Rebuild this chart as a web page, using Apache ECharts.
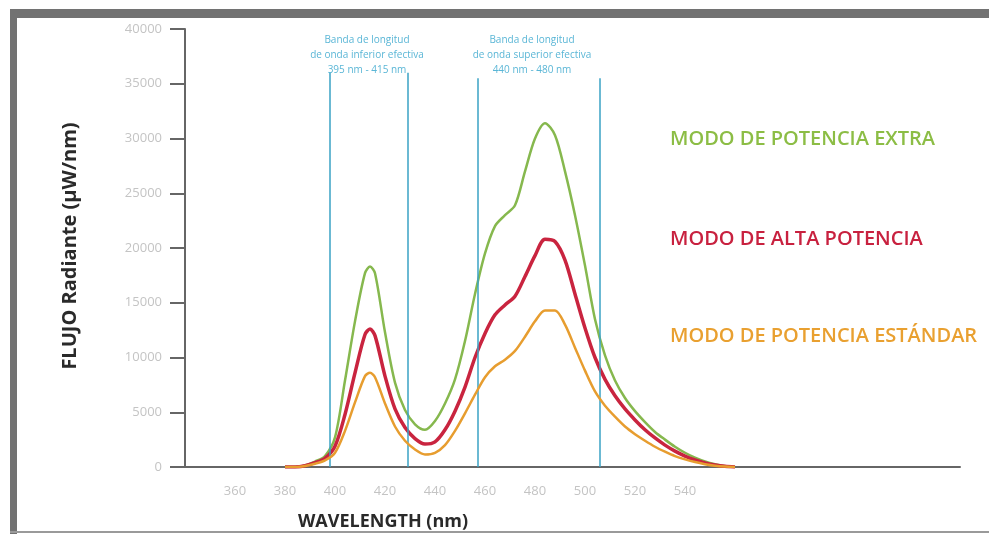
<!DOCTYPE html>
<html>
<head>
<meta charset="utf-8">
<script src="https://cdn.jsdelivr.net/npm/echarts@6/dist/echarts.min.js"></script>
<style>
html,body{margin:0;padding:0;background:#fff;}
#chart{width:989px;height:534px;}
</style>
</head>
<body>
<div id="chart"></div>
<script>
// ---- data ----
const wavelengths = [380,384,388,392,396,400,404,408,412,414,416,420,424,428,432,436,440,444,448,452,456,460,464,468,472,476,480,484,488,492,496,500,504,508,512,516,520,524,528,532,536,540,544,548,552,556,560];
const extraMode    = [0,0,150,500,1000,2700,7900,13300,17700,18300,17700,12300,7700,5200,3900,3400,4200,5800,8000,11500,15800,19500,22000,23000,23900,27000,30000,31400,30300,27000,23000,18400,13500,10200,7900,6300,5100,4100,3200,2500,1850,1300,850,500,250,80,0];
const highMode     = [0,0,120,400,800,1900,4800,8600,12100,12600,12000,8300,5300,3600,2600,2100,2300,3400,5100,7300,10000,12200,13900,14800,15600,17400,19300,20800,20600,18900,15800,12700,10000,8000,6500,5300,4300,3400,2650,2000,1450,1000,650,380,180,60,0];
const standardMode = [0,0,100,300,600,1300,3300,5900,8300,8600,8200,5800,3700,2400,1600,1150,1300,2000,3300,4900,6600,8200,9200,9800,10600,11900,13300,14300,14300,13000,10900,8800,6900,5600,4600,3700,3000,2400,1850,1400,1000,700,450,260,120,40,0];
const seriesNames = ['MODO DE POTENCIA EXTRA','MODO DE ALTA POTENCIA','MODO DE POTENCIA ESTÁNDAR'];
const xTickLabels = [360,380,400,420,440,460,480,500,520,540];
const bandLinePositions = [398, 429, 457, 506];
const bandLineTops = [36000, 36000, 35500, 35500];
const bandTexts = [
  'Banda de longitud\nde onda inferior efectiva\n395 nm - 415 nm',
  'Banda de longitud\nde onda superior efectiva\n440 nm - 480 nm'
];
const yAxisTitle = 'FLUJO Radiante (μW/nm)';
const xAxisTitle = 'WAVELENGTH (nm)';

const colors = ['#86b84e', '#c9243f', '#e79d2f'];
const textColors = ['#8cbd45', '#c8213f', '#e9a030'];
const widths = [2.5, 3.5, 2.5];

function pairs(vals){ return wavelengths.map((w,i)=>[w, vals[i]]); }

const chart = echarts.init(document.getElementById('chart'), null, {renderer:'canvas'});

const lineSeries = [extraMode, highMode, standardMode].map((vals, i) => ({
  name: seriesNames[i],
  type: 'line',
  data: pairs(vals),
  smooth: 0.3,
  showSymbol: false,
  silent: true,
  z: 3 + i,
  lineStyle: {color: colors[i], width: widths[i]}
}));

const bandSeries = {
  type: 'line',
  data: [],
  silent: true,
  z: 2,
  markLine: {
    silent: true,
    symbol: ['none','none'],
    label: {show: false},
    lineStyle: {color: '#3aa2c4', width: 1.5, type: 'solid'},
    data: bandLinePositions.map((x, i) => [
      {coord: [x, bandLineTops[i]]},
      {coord: [x, 0]}
    ])
  }
};

const leftFrame = {type:'rect', shape:{x:10, y:9, width:7, height:525}, style:{fill:'#727272'}, z:10};
const topFrame = {type:'rect', shape:{x:10, y:9, width:979, height:9}, style:{fill:'#727272'}, z:10};
const bottomFrame = {type:'rect', shape:{x:10, y:531, width:979, height:2}, style:{fill:'#9a9a9a'}, z:10};

const graphics = [leftFrame, topFrame, bottomFrame,
  {type:'text', x:70, y:246, rotation:Math.PI/2,
    style:{text:yAxisTitle, align:'center', verticalAlign:'middle', fill:'#2a2a2a',
      font:'bold 20px "Open Sans", sans-serif'}},
  {type:'text', x:383, y:522,
    style:{text:xAxisTitle, align:'center', verticalAlign:'middle', fill:'#2a2a2a',
      font:'bold 18px "Open Sans", sans-serif'}},
  {type:'text', x:367, y:33,
    style:{text:bandTexts[0], align:'center', verticalAlign:'top', fill:'#5ab6d6',
      font:'10px "Open Sans", sans-serif', lineHeight:15}},
  {type:'text', x:532, y:33,
    style:{text:bandTexts[1], align:'center', verticalAlign:'top', fill:'#5ab6d6',
      font:'10px "Open Sans", sans-serif', lineHeight:15}}
];
const legendY = [139, 239, 336];
seriesNames.forEach((n, i) => {
  graphics.push({type:'text', x:670, y:legendY[i],
    style:{text:n, align:'left', verticalAlign:'middle', fill:textColors[i],
      font:'600 20px "Open Sans", sans-serif'}});
});

chart.setOption({
  animation: false,
  backgroundColor: '#ffffff',
  grid: {left:185, top:29, width:775, height:438, containLabel:false},
  xAxis: {
    type: 'value', min: 340, max: 650, interval: 20,
    axisLine: {show:true, onZero:false, lineStyle:{color:'#666', width:2}},
    axisTick: {show:false},
    splitLine: {show:false},
    axisLabel: {
      margin: 18, color:'#c4c4c4', fontSize: 13, fontFamily:'"Open Sans", sans-serif',
      formatter: v => xTickLabels.indexOf(v) >= 0 ? String(v) : ''
    }
  },
  yAxis: {
    type: 'value', min: 0, max: 40000, interval: 5000,
    axisLine: {show:true, lineStyle:{color:'#666', width:2}},
    axisTick: {show:true, length:15, lineStyle:{color:'#666', width:2}},
    splitLine: {show:false},
    axisLabel: {margin: 23, color:'#c4c4c4', fontSize: 13, fontFamily:'"Open Sans", sans-serif',
      formatter: v => String(v)}
  },
  graphic: graphics,
  series: [bandSeries].concat(lineSeries)
});
</script>
</body>
</html>
